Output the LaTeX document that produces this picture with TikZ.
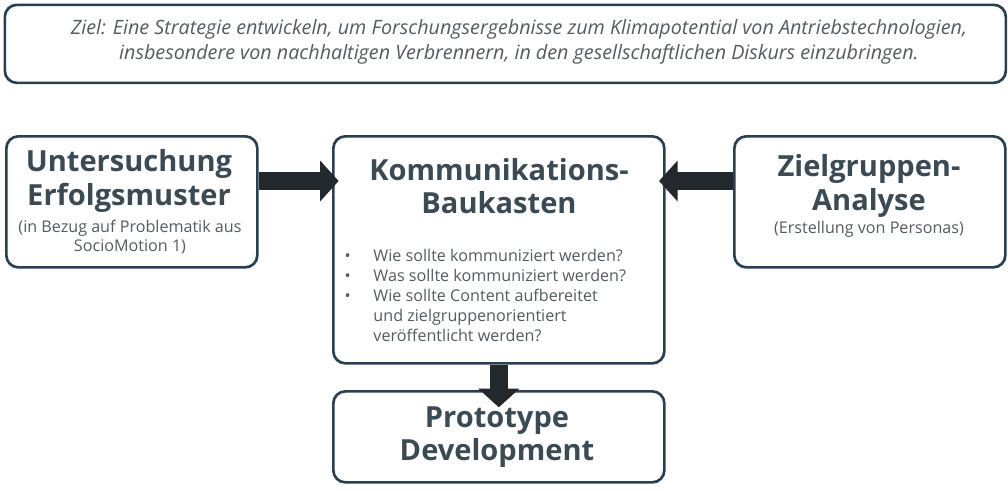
\documentclass[tikz,border=0pt]{standalone}
\usepackage{fontspec}
\setmainfont{Open Sans}
\usetikzlibrary{arrows.meta}
\definecolor{bord}{HTML}{2A3F4F}
\definecolor{ttl}{HTML}{3C4A53}
\definecolor{sub}{HTML}{555B60}
\definecolor{arr}{HTML}{23282C}
\tikzset{
 box/.style={draw=bord,line width=2pt,rounded corners=9pt,fill=white,inner sep=0pt},
 ttlf/.style={font=\bfseries\fontsize{21.8}{25}\selectfont,text=ttl,align=center},
 subf/.style={font=\fontsize{12.1}{14}\selectfont,text=sub,align=center},
 blk/.style={arr,line width=14pt,-{Triangle[length=14pt,width=30pt]}}
}
\begin{document}
\begin{tikzpicture}[x=0.75pt,y=-0.75pt]
\useasboundingbox (0,0) rectangle (1008,490);
\node[box,minimum width=750.75pt,minimum height=58.5pt,anchor=north west] (goal) at (3.5,3.5) {};
\node[font=\itshape\fontsize{14.8}{19}\selectfont,text=sub,align=center] (goaltxt) at (519,42) {Ziel: Eine Strategie entwickeln, um Forschungsergebnisse zum Klimapotential von Antriebstechnologien,\\insbesondere von nachhaltigen Verbrennern, in den gesellschaftlichen Diskurs einzubringen.};
\node[box,minimum width=188.25pt,minimum height=98.25pt,anchor=north west] (left) at (5,135) {};
\node[box,minimum width=248.25pt,minimum height=170.25pt,anchor=north west] (mid) at (332,135) {};
\node[box,minimum width=203.25pt,minimum height=98.25pt,anchor=north west] (right) at (733,135) {};
\node[box,minimum width=248.25pt,minimum height=68.25pt,anchor=north west] (bot) at (332,390) {};
\node[ttlf] (lt) at (129,181) {Untersuchung\\Erfolgsmuster};
\node[subf] (ls) at (130,237) {(in Bezug auf Problematik aus\\SocioMotion 1)};
\node[ttlf] (mt) at (499,186) {Kommunikations-\\Baukasten};
\node[ttlf] (rt) at (869,186) {Zielgruppen-\\Analyse};
\node[subf] (rs) at (869,229) {(Erstellung von Personas)};
\node[ttlf] (bt) at (497,437) {Prototype\\Development};
\node[font=\fontsize{12.1}{15}\selectfont,text=sub,anchor=north west,align=left] (list) at (340,243) {%
\begin{tabular}{@{}l@{\hspace{17pt}}l@{}}
\textbullet & Wie sollte kommuniziert werden?\\
\textbullet & Was sollte kommuniziert werden?\\
\textbullet & Wie sollte Content aufbereitet\\
 & und zielgruppenorientiert\\
 & veröffentlicht werden?
\end{tabular}};
\draw[blk,shorten >=-5pt] (left.east |- 0,181) -- (mid.west |- 0,181);
\draw[blk,shorten >=-5pt] (right.west |- 0,181) -- (mid.east |- 0,181);
\draw[blk,shorten >=-13pt] (mid.south) -- (bot.north);
\end{tikzpicture}
\end{document}
